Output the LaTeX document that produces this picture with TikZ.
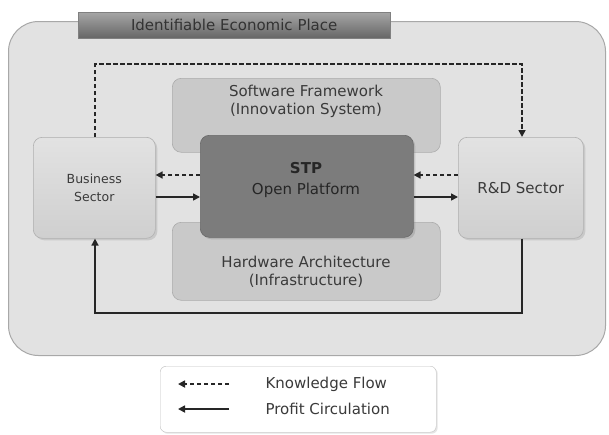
\documentclass[tikz,border=0pt]{standalone}
\usepackage{fontspec}
\setmainfont{DejaVu Sans}
\usetikzlibrary{arrows.meta,shadows}
\definecolor{outerfill}{HTML}{E2E2E2}
\definecolor{outerdraw}{HTML}{A8A8A8}
\definecolor{layerfill}{HTML}{C9C9C9}
\definecolor{stpfill}{HTML}{7C7C7C}
\definecolor{sectorfill}{HTML}{CFCFCF}
\definecolor{txt}{HTML}{3A3A3A}
\tikzset{
  box/.style={draw=#1!85!black, line width=0.6pt, rounded corners=9pt, fill=#1, text=txt, align=center, inner sep=0pt},
  layer/.style={box=layerfill},
  sector/.style={box=sectorfill, top color=sectorfill!60!white, bottom color=sectorfill, drop shadow={opacity=0.25, shadow xshift=2pt, shadow yshift=-2pt}},
  knowledge/.style={draw=black!85, line width=1.6pt, dash pattern=on 4.5pt off 2.5pt, -{Triangle[length=7pt,width=7pt]}},
  profit/.style={draw=black!85, line width=1.6pt, -{Triangle[length=7pt,width=7pt]}},
  lbl/.style={text=txt, font=\fontsize{15}{18}\selectfont, align=center},
}
\begin{document}
\begin{tikzpicture}[x=1pt,y=-1pt]
\useasboundingbox (0,0) rectangle (609,434);
\fill[white] (0,0) rectangle (609,434);
% outer region
\node[draw=outerdraw, fill=outerfill, line width=1pt, rounded corners=30pt, minimum width=597pt, minimum height=334pt, anchor=north west, inner sep=0pt] (outer) at (8,21) {};
% title bar
\node[anchor=north west, minimum width=312pt, minimum height=26pt, inner sep=0pt, top color=black!35, bottom color=black!60, draw=black!50, text=black!80, font=\fontsize{15}{18}\selectfont] (title) at (78,12) {Identifiable Economic Place};
% layers
\node[layer, minimum width=268pt, minimum height=74pt, anchor=north west] (sw) at (172,78) {};
\node[lbl] (swt) at (306,101) {Software Framework\\(Innovation System)};
\node[layer, minimum width=268pt, minimum height=78pt, anchor=north west] (hw) at (172,222) {};
\node[lbl] (hwt) at (306,272) {Hardware Architecture\\(Infrastructure)};
% STP
\node[box=stpfill, minimum width=213pt, minimum height=102pt, anchor=north west, drop shadow={opacity=0.3, shadow xshift=2pt, shadow yshift=-2pt}] (stp) at (200,135) {};
\node[text=black!85, font=\fontsize{15}{21}\selectfont, align=center] (stpt) at (306,180) {\textbf{STP}\\Open Platform};
% sectors
\node[sector, minimum width=122pt, minimum height=101pt, anchor=north west, font=\fontsize{12.5}{18}\selectfont] (bus) at (33,137) {Business\\Sector};
\node[sector, minimum width=125pt, minimum height=101pt, anchor=north west, font=\fontsize{15}{18}\selectfont] (rd) at (458,137) {R\&D Sector};
% side arrows
\draw[knowledge] (stp.west |- 0,175) -- (bus.east |- 0,175);
\draw[profit] (bus.east |- 0,197) -- (stp.west |- 0,197);
\draw[knowledge] (rd.west |- 0,175) -- (stp.east |- 0,175);
\draw[profit] (stp.east |- 0,197) -- (rd.west |- 0,197);
% loops
\coordinate (dk1) at (95,64);
\coordinate (dk2) at (522,64);
\draw[knowledge] (bus.north -| dk1) -- (dk1) -- (dk2) -- (rd.north -| dk2);
\coordinate (pf1) at (522,313);
\coordinate (pf2) at (95,313);
\draw[profit] (rd.south -| pf1) -- (pf1) -- (pf2) -- (bus.south -| pf2);
% legend
\node[draw=black!25, fill=white, rounded corners=6pt, minimum width=276pt, minimum height=66pt, anchor=north west, drop shadow={opacity=0.2, shadow xshift=1.5pt, shadow yshift=-1.5pt}] (leg) at (160,366) {};
\coordinate (lk1) at (229,384);
\coordinate (lk2) at (178,384);
\coordinate (lp1) at (229,409);
\coordinate (lp2) at (178,409);
\draw[knowledge] (lk1) -- (lk2);
\draw[profit] (lp1) -- (lp2);
\node[lbl, anchor=west] (lkt) at (262,384) {Knowledge Flow};
\node[lbl, anchor=west] (lpt) at (262,409) {Profit Circulation};
\end{tikzpicture}
\end{document}
